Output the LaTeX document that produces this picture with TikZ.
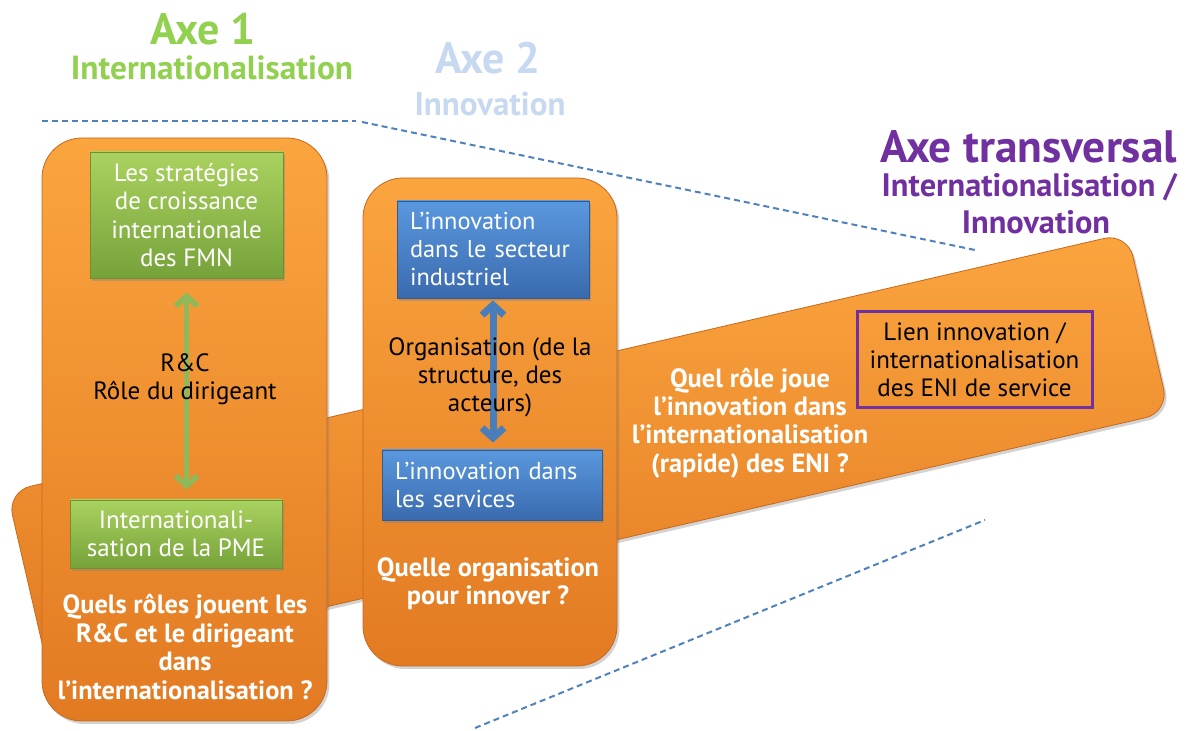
\documentclass[tikz,border=0pt]{standalone}
\usepackage{fontspec}
\setmainfont{PT Sans}
\usetikzlibrary{arrows.meta,shadows}
\definecolor{orangeT}{HTML}{FBA53F}
\definecolor{orangeB}{HTML}{E27A22}
\definecolor{orangeE}{HTML}{C8681C}
\definecolor{greenT}{HTML}{AAD25F}
\definecolor{greenB}{HTML}{76A23A}
\definecolor{greenE}{HTML}{6A9433}
\definecolor{blueT}{HTML}{5A98DE}
\definecolor{blueB}{HTML}{3A6AAE}
\definecolor{blueE}{HTML}{2F5A94}
\definecolor{axeGreen}{HTML}{92D050}
\definecolor{axeBlue}{HTML}{C6D9F1}
\definecolor{axePurple}{HTML}{7030A0}
\definecolor{dashBlue}{HTML}{4F81BD}
\definecolor{arrGreen}{HTML}{8EB85A}
\definecolor{arrBlue}{HTML}{4A7EBB}
\begin{document}
\begin{tikzpicture}[x=0.5pt,y=-0.5pt,
  orangebox/.style={rounded corners=20pt, top color=orangeT, bottom color=orangeB,
    draw=orangeE, line width=0.4pt,
    drop shadow={opacity=0.35, shadow xshift=1.2pt, shadow yshift=-1.5pt}},
  greenbox/.style={rectangle, top color=greenT, bottom color=greenB, draw=greenE,
    line width=0.4pt, text=white, align=center, inner sep=0pt,
    font=\fontsize{12.5}{14.2}\selectfont,
    drop shadow={opacity=0.4, shadow xshift=1pt, shadow yshift=-1.5pt}},
  bluebox/.style={rectangle, top color=blueT, bottom color=blueB, draw=blueE,
    line width=0.4pt, text=white, align=left, inner xsep=6.5pt, inner ysep=0pt,
    font=\fontsize{12.2}{14}\selectfont,
    drop shadow={opacity=0.4, shadow xshift=1pt, shadow yshift=-1.5pt}},
  blacktxt/.style={align=center, text=black, font=\fontsize{12.5}{14}\selectfont},
  whitetxt/.style={align=center, text=white, font=\bfseries\fontsize{13.2}{14.2}\selectfont},
  dashline/.style={draw=dashBlue, line width=1pt, dash pattern=on 3pt off 2pt},
  duoarrow/.style={line width=2.8pt, arrows={Straight Barb[length=5pt,width=11pt]-Straight Barb[length=5pt,width=11pt]}},
]
\useasboundingbox (0,0) rectangle (1190,731);

% dashed guides
\coordinate (d1) at (42,121);
\coordinate (d2) at (356,121);
\coordinate (d3) at (362,122);
\coordinate (d4) at (975,250);
\coordinate (d5) at (475,728);
\coordinate (d6) at (985,520);
\draw[dashline] (d1) -- (d2);
\draw[dashline] (d3) -- (d4);
\draw[dashline] (d5) -- (d6);

% titles
\node[text=axeGreen, font=\bfseries\fontsize{22}{24}\selectfont] (t1) at (203,29) {Axe 1};
\node[text=axeGreen, font=\bfseries\fontsize{16.7}{19}\selectfont] (t1b) at (212,68) {Internationalisation};
\node[text=axeBlue, font=\bfseries\fontsize{22}{24}\selectfont] (t2) at (488,58) {Axe 2};
\node[text=axeBlue, font=\bfseries\fontsize{16.5}{19}\selectfont] (t2b) at (490,104) {Innovation};
\node[text=axePurple, font=\bfseries\fontsize{22.7}{24}\selectfont, anchor=east] (t3) at (1184,147) {Axe transversal};
\node[text=axePurple, font=\bfseries\fontsize{16.2}{19}\selectfont, anchor=east] (t3b) at (1184,187) {Internationalisation /};
\node[text=axePurple, font=\bfseries\fontsize{16.2}{19}\selectfont] (t3c) at (1036,222) {Innovation};

% transversal band
\node[orangebox, rounded corners=12pt, rotate=13, minimum width=575pt, minimum height=92pt] (band) at (588,452) {};

% axis boxes
\node[orangebox, minimum width=142.5pt, minimum height=291.5pt] (axe1box) at (184.5,429.5) {};
\node[orangebox, minimum width=127pt, minimum height=244pt] (axe2box) at (490,422) {};

% axe 1 content
\node[greenbox, minimum width=96.5pt, minimum height=63pt] (g1) at (186.5,215)
  {Les stratégies\\de croissance\\internationale\\des FMN};
\node[greenbox, minimum width=106pt, minimum height=34pt] (g2) at (176,534)
  {Internationali-\\sation de la PME};
\draw[duoarrow, draw=arrGreen, shorten <=7pt, shorten >=5pt] (g1.south) -- (g1.south |- g2.north);
\node[blacktxt] (rc) at (185,379) {R\&C\\Rôle du dirigeant};
\node[whitetxt] (q1) at (185,647) {Quels rôles jouent les\\R\&C et le dirigeant\\dans\\l’internationalisation ?};

% axe 2 content
\node[bluebox, text width=83pt, minimum height=48.5pt] (b1) at (493,249.5)
  {L’innovation\\dans le secteur\\industriel};
\node[bluebox, text width=97pt, minimum height=35pt] (b2) at (492,485)
  {L’innovation dans\\les services};
\draw[duoarrow, draw=arrBlue, line width=3.5pt, shorten <=1pt, shorten >=3.5pt] (b1.south) -- (b1.south |- b2.north);
\node[blacktxt] (org) at (490,377) {Organisation (de la\\structure, des\\acteurs)};
\node[whitetxt] (q2) at (488,584) {Quelle organisation\\pour innover ?};

% transversal content
\node[whitetxt] (q3) at (750,423) {Quel rôle joue\\l’innovation dans\\l’internationalisation\\(rapide) des ENI ?};
\node[draw=axePurple, line width=1.5pt, minimum width=117.5pt, minimum height=48pt, blacktxt] (lien) at (974.5,360)
  {Lien innovation /\\internationalisation\\des ENI de service};
\end{tikzpicture}
\end{document}
